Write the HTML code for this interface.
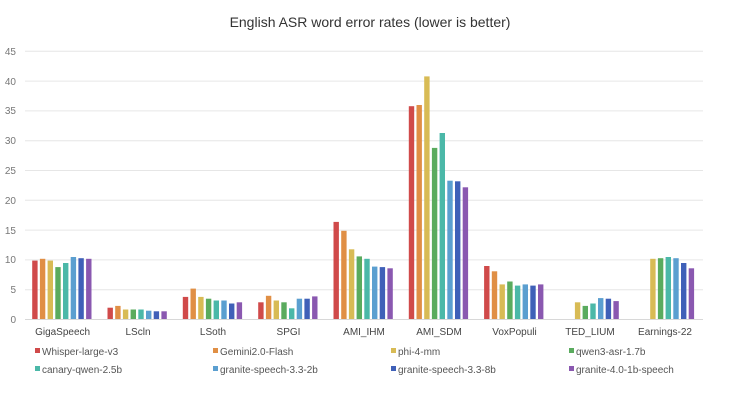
<!DOCTYPE html>
<html><head><meta charset="utf-8"><style>
html,body{margin:0;padding:0;background:#fff;}
svg{display:block;font-family:"Liberation Sans",sans-serif;}
</style></head><body>
<svg id="c" width="741" height="405" viewBox="0 0 741 405">
<rect width="741" height="405" fill="#fff"/>
<text x="370" y="27" text-anchor="middle" font-size="14" fill="#333">English ASR word error rates (lower is better)</text>
<g stroke="#e6e6e6" stroke-width="1">
<line x1="25" x2="703" y1="319.5" y2="319.5" stroke="#d8d8d8"/>
<line x1="25" x2="703" y1="289.7" y2="289.7"/>
<line x1="25" x2="703" y1="259.9" y2="259.9"/>
<line x1="25" x2="703" y1="230.1" y2="230.1"/>
<line x1="25" x2="703" y1="200.3" y2="200.3"/>
<line x1="25" x2="703" y1="170.5" y2="170.5"/>
<line x1="25" x2="703" y1="140.7" y2="140.7"/>
<line x1="25" x2="703" y1="110.9" y2="110.9"/>
<line x1="25" x2="703" y1="81.1" y2="81.1"/>
<line x1="25" x2="703" y1="51.3" y2="51.3"/>
</g>
<g font-size="10" fill="#777" text-anchor="end">
<text x="16" y="323">0</text><text x="16" y="293">5</text><text x="16" y="263">10</text>
<text x="16" y="234">15</text><text x="16" y="204">20</text><text x="16" y="174">25</text>
<text x="16" y="144">30</text><text x="16" y="114">35</text><text x="16" y="85">40</text>
<text x="16" y="55">45</text>
</g>
<g id="bars"></g>
<g font-size="10" fill="#444" text-anchor="middle">
<text x="62.6" y="335">GigaSpeech</text><text x="138" y="335">LScln</text>
<text x="213" y="335">LSoth</text><text x="288.5" y="335">SPGI</text>
<text x="364" y="335">AMI_IHM</text><text x="439" y="335">AMI_SDM</text>
<text x="514.5" y="335">VoxPopuli</text><text x="590" y="335">TED_LIUM</text>
<text x="665" y="335">Earnings-22</text>
</g>
<g font-size="10" fill="#555">
<rect x="35" y="348" width="5" height="5" fill="#d04a4a"/><text x="42" y="355">Whisper-large-v3</text>
<rect x="213" y="348" width="5" height="5" fill="#e08f45"/><text x="220" y="355">Gemini2.0-Flash</text>
<rect x="391" y="348" width="5" height="5" fill="#d8bb55"/><text x="398" y="355">phi-4-mm</text>
<rect x="569" y="348" width="5" height="5" fill="#5aab5e"/><text x="576" y="355">qwen3-asr-1.7b</text>
<rect x="35" y="366" width="5" height="5" fill="#4bb8a8"/><text x="42" y="373">canary-qwen-2.5b</text>
<rect x="213" y="366" width="5" height="5" fill="#5b9fd0"/><text x="220" y="373">granite-speech-3.3-2b</text>
<rect x="391" y="366" width="5" height="5" fill="#3f60b8"/><text x="398" y="373">granite-speech-3.3-8b</text>
<rect x="569" y="366" width="5" height="5" fill="#8a58b0"/><text x="576" y="373">granite-4.0-1b-speech</text>
</g>
</svg>
<script>
var cols=["#d04a4a","#e08f45","#d8bb55","#5aab5e","#4bb8a8","#5b9fd0","#3f60b8","#8a58b0"];
var d=[[9.8,10.1,9.8,8.7,9.4,10.4,10.2,10.1],[1.9,2.2,1.6,1.6,1.6,1.4,1.3,1.3],[3.7,5.1,3.7,3.4,3.1,3.1,2.6,2.8],[2.8,3.9,3.1,2.8,1.8,3.4,3.4,3.8],[16.3,14.8,11.7,10.5,10.1,8.8,8.7,8.5],[35.7,35.9,40.7,28.7,31.2,23.2,23.1,22.1],[8.9,8.0,5.8,6.3,5.6,5.8,5.6,5.8],[0,0,2.8,2.2,2.6,3.5,3.4,3.0],[0,0,10.1,10.2,10.4,10.2,9.4,8.5]];
var g=document.getElementById("bars"),s="";
for(var i=0;i<9;i++){var c=25+75.33*(i+0.5);for(var j=0;j<8;j++){var v=d[i][j];if(!v)continue;var h=v*5.96;s+='<rect x="'+(c-30.5+7.7*j).toFixed(1)+'" y="'+(319-h).toFixed(1)+'" width="5.4" height="'+h.toFixed(1)+'" fill="'+cols[j]+'"/>';}}
g.innerHTML=s;
</script>
</body></html>
